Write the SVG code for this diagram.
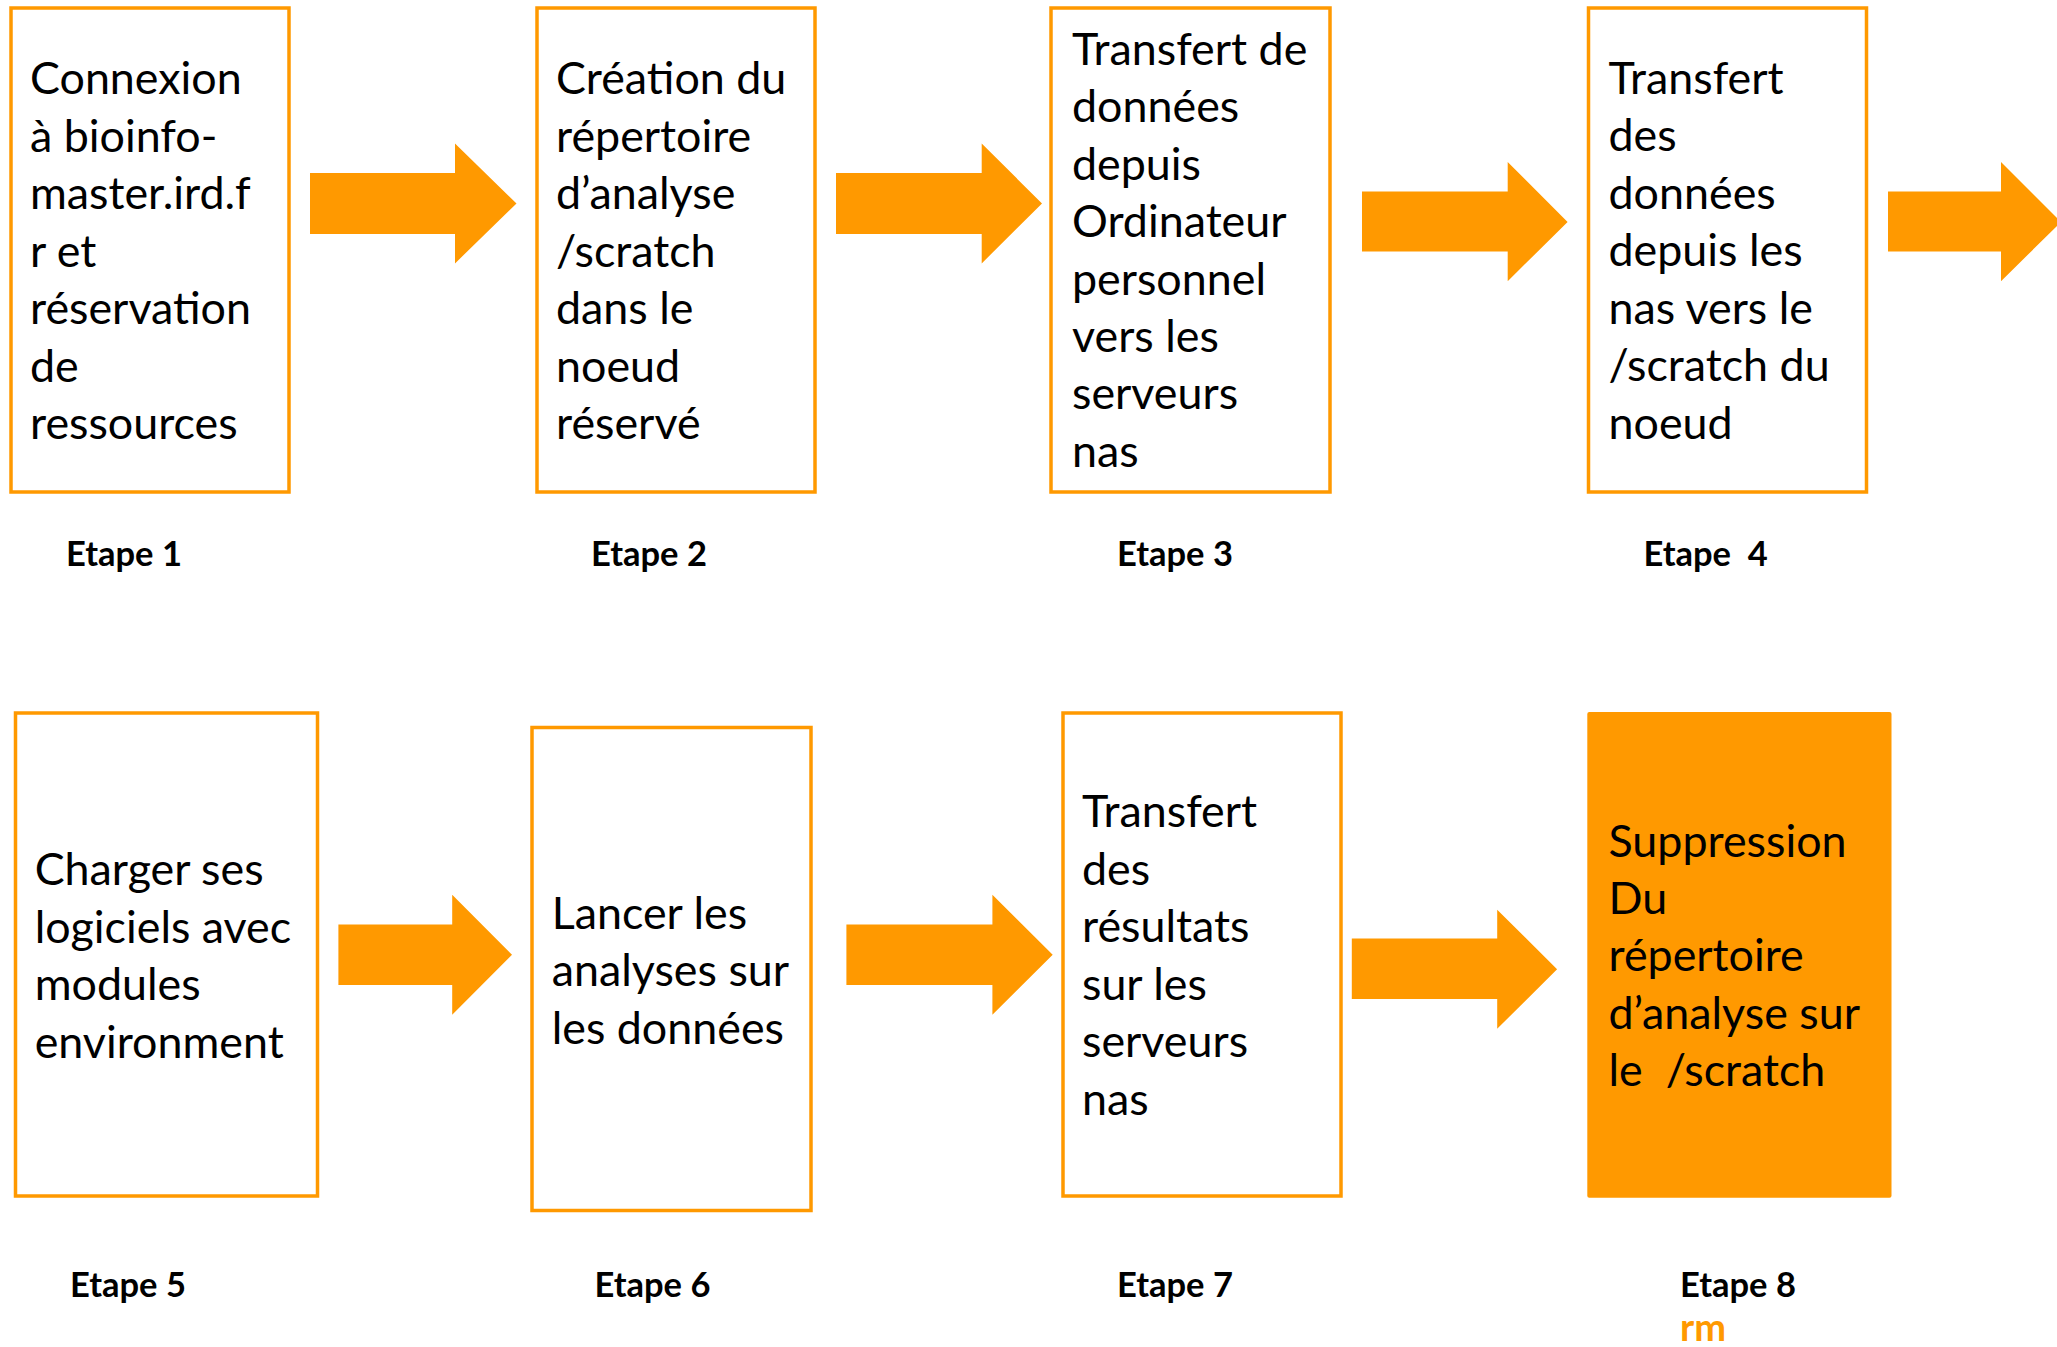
<svg xmlns="http://www.w3.org/2000/svg" width="2057" height="1347" viewBox="0 0 2057 1347">
<style>
.box{fill:#ffffff;stroke:#FF9900;stroke-width:3.5}
.boxf{fill:#FF9900;stroke:none}
.arr{fill:#FF9900;stroke:none}
.t{font-family:Lato,"Liberation Sans",sans-serif;font-size:44.8px;fill:#000000;white-space:pre}
.lab{font-family:Lato,"Liberation Sans",sans-serif;font-size:34.5px;font-weight:bold;fill:#000000;white-space:pre}
.rm{font-family:Lato,"Liberation Sans",sans-serif;font-size:38px;font-weight:bold;fill:#FF9900}
</style>
<rect width="2057" height="1347" fill="#ffffff"/>
<g id="connectors">
<polygon class="arr" points="310,173 455,173 455,143.5 516.5,203.5 455,263.4 455,234 310,234"/>
<polygon class="arr" points="836,173 981.7,173 981.7,143.5 1042,203.5 981.7,263.4 981.7,234 836,234"/>
<polygon class="arr" points="1362,191.6 1507.7,191.6 1507.7,162 1567.6,222 1507.7,281.2 1507.7,251.6 1362,251.6"/>
<polygon class="arr" points="1888,191.6 2001,191.6 2001,162 2061,222 2001,281.2 2001,251.6 1888,251.6"/>
<polygon class="arr" points="338.4,924.6 452.2,924.6 452.2,894.8 512,954.8 452.2,1014.8 452.2,985 338.4,985"/>
<polygon class="arr" points="846.4,924.6 992.4,924.6 992.4,894.8 1052.7,954.8 992.4,1014.8 992.4,985 846.4,985"/>
<polygon class="arr" points="1351.8,938.6 1497.2,938.6 1497.2,909.7 1557.1,969.2 1497.2,1028.8 1497.2,999 1351.8,999"/>
</g>
<g id="step1">
<rect class="box" x="11" y="8" width="278" height="484"/>
<text class="t"><tspan x="30" y="94">Connexion</tspan><tspan x="30" y="151.5">à bioinfo-</tspan><tspan x="30" y="209">master.ird.f</tspan><tspan x="30" y="266.5">r et</tspan><tspan x="30" y="324">réservation</tspan><tspan x="30" y="381.5">de</tspan><tspan x="30" y="439">ressources</tspan></text>
<text class="lab" x="66" y="566">Etape 1</text>
</g>
<g id="step2">
<rect class="box" x="537" y="8" width="278" height="484"/>
<text class="t"><tspan x="556" y="94">Création du</tspan><tspan x="556" y="151.5">répertoire</tspan><tspan x="556" y="209">d’analyse</tspan><tspan x="556" y="266.5">/scratch</tspan><tspan x="556" y="324">dans le</tspan><tspan x="556" y="381.5">noeud</tspan><tspan x="556" y="439">réservé</tspan></text>
<text class="lab" x="591" y="566">Etape 2</text>
</g>
<g id="step3">
<rect class="box" x="1051" y="8" width="279" height="484"/>
<text class="t"><tspan x="1072" y="65">Transfert de</tspan><tspan x="1072" y="122.4">données</tspan><tspan x="1072" y="179.8">depuis</tspan><tspan x="1072" y="237.2">Ordinateur</tspan><tspan x="1072" y="294.6">personnel</tspan><tspan x="1072" y="352">vers les</tspan><tspan x="1072" y="409.4">serveurs</tspan><tspan x="1072" y="466.8">nas</tspan></text>
<text class="lab" x="1117" y="566">Etape 3</text>
</g>
<g id="step4">
<rect class="box" x="1588.5" y="8" width="278" height="484"/>
<text class="t"><tspan x="1608.5" y="93.5">Transfert</tspan><tspan x="1608.5" y="151">des</tspan><tspan x="1608.5" y="208.5">données</tspan><tspan x="1608.5" y="266">depuis les</tspan><tspan x="1608.5" y="323.5">nas vers le</tspan><tspan x="1608.5" y="381">/scratch du</tspan><tspan x="1608.5" y="438.5">noeud</tspan></text>
<text class="lab" x="1643.5" y="566">Etape  4</text>
</g>
<g id="step5">
<rect class="box" x="15.5" y="713" width="302" height="483"/>
<text class="t"><tspan x="34.7" y="885">Charger ses</tspan><tspan x="34.7" y="942.5">logiciels avec</tspan><tspan x="34.7" y="1000">modules</tspan><tspan x="34.7" y="1057.5">environment</tspan></text>
<text class="lab" x="70" y="1297">Etape 5</text>
</g>
<g id="step6">
<rect class="box" x="532" y="727.5" width="279" height="483"/>
<text class="t"><tspan x="551.7" y="928.5">Lancer les</tspan><tspan x="551.7" y="986">analyses sur</tspan><tspan x="551.7" y="1043.5">les données</tspan></text>
<text class="lab" x="594.5" y="1297">Etape 6</text>
</g>
<g id="step7">
<rect class="box" x="1063" y="713" width="278" height="483"/>
<text class="t"><tspan x="1082" y="827">Transfert</tspan><tspan x="1082" y="884.5">des</tspan><tspan x="1082" y="942">résultats</tspan><tspan x="1082" y="999.5">sur les</tspan><tspan x="1082" y="1057">serveurs</tspan><tspan x="1082" y="1114.5">nas</tspan></text>
<text class="lab" x="1117" y="1297">Etape 7</text>
</g>
<g id="step8">
<rect class="boxf" x="1587.3" y="711.9" width="304.2" height="485.8" rx="2"/>
<text class="t"><tspan x="1608.5" y="856.5">Suppression</tspan><tspan x="1608.5" y="914">Du</tspan><tspan x="1608.5" y="971.4">répertoire</tspan><tspan x="1608.5" y="1028.8">d’analyse sur</tspan><tspan x="1608.5" y="1086.2">le  /scratch</tspan></text>
<text class="lab" x="1680" y="1297">Etape 8</text>
<text class="rm" x="1680" y="1341">rm</text>
</g>
</svg>
